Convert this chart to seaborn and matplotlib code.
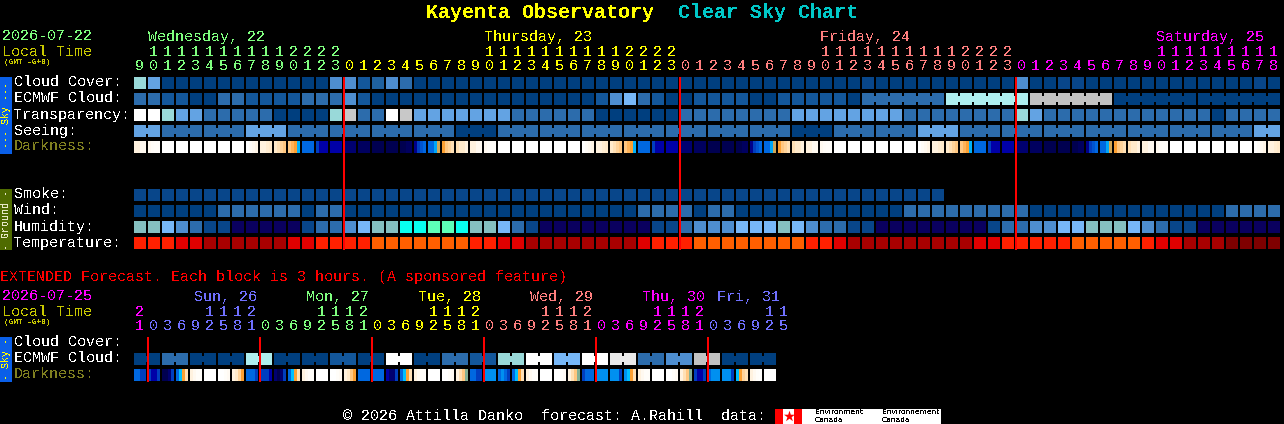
import numpy as np
import pandas as pd
import matplotlib
matplotlib.use("Agg")
import matplotlib.pyplot as plt
from matplotlib.colors import ListedColormap, LinearSegmentedColormap
from matplotlib.patches import Rectangle
import seaborn as sns

# ---------- colours of the forecast blocks (code -> colour) ----------
PALETTE = {
    "a": "#003f7f", "A": "#08468a", "b": "#13579b", "B": "#1f619f", "c": "#2c6cac",
    "d": "#4e8ed0", "e": "#63a3e3", "f": "#77b7f7", "g": "#99d9d9", "h": "#aeeeee",
    "i": "#c2c2c2", "j": "#e9e9e9", "k": "#ffffff", "s": "#c8c8c8",
    "n": "#0a005f", "m": "#85c0c0", "o": "#08fff0", "p": "#5dffb8",
    "1": "#7f0000", "2": "#a80000", "3": "#e00000", "4": "#ff2000", "5": "#ff5f00",
}
CODES = list(PALETTE)
CMAP = ListedColormap([PALETTE[c] for c in CODES])

# ---------- main forecast: one code per hour ----------
HOURS = [9, 10, 11, 12, 13, 14, 15, 16, 17, 18, 19, 20, 21, 22, 23] + list(range(24)) + list(range(24)) + list(range(19))
CLOUD = "geaaaaaaaaaaaaddbBdca" + "a" * 31 + "A" + "a" * 10 + "d" + "aa" + "AA" + "a" * 12 + "A" + "a"
ECMWF = "ccbbaaccbbbbcccdbaaaa" + "a" * 12 + "bdfcbaa" + "bbbbaabbbbba" + "c" * 6 + "h" * 6 + "i" * 6 + "a" * 12
TRANSP = "kkgeecccccaaaagscckse" + "eeeeee" + "cccccc" + "aaaaaa" + "cccccccc" + "eeeee" + "eee" + "cccccccc" + "ge" + "c" * 12 + "a" + "cccc"
SEEING = "ee" + "ccc" * 2 + "eee" + "ccc" * 4 + "aaa" + "ccc" * 7 + "aaa" + "ccc" * 2 + "eee" + "ccc" * 7 + "ee"
SMOKE = "A" * 58
WIND = "aaaaaa" + "cccccc" + "acc" + "a" * 21 + "cccc" + "acc" + "a" * 12 + "c" * 9 + "a" * 14 + "cccc"
HUMID = "mmfdcAAnnnnnAccdfmmoo" + "ppommfcA" + "n" * 8 + "AAcdddfffmfdccA" + "A" + "n" * 8 + "AccddffmmmfdcAA" + "n" * 6
TEMP = "444332222223344445555" + "555443" + "3" + "2" * 8 + "3444" + "5" * 8 + "4432" + "2" * 8 + "33" + "44444" + "55555" + "4332" + "22" + "1111"

# darkness level (0 white ... 11 near black), four readings across a block, by hour of the day
DARK_BY_HOUR = [
    [10, 10, 10, 10], [10.5, 10.5, 10.5, 10.5], [11, 11, 11, 11], [11, 11, 11, 11], [11, 11, 10.5, 10.5],
    [9.5, 8, 7.5, 7], [7, 7, 5.5, 4.2], [4, 3, 2.5, 2], [2, 1.5, 1.5, 1], [1, 1, .5, .5], [.5, .3, .2, .2],
    [0, 0, 0, 0], [0, 0, 0, 0], [0, 0, 0, 0], [0, 0, 0, 0], [0, 0, 0, 0], [0, 0, 0, 0],
    [0, .3, .5, .8], [1, 1, 1.3, 1.5], [1.5, 2, 2.5, 3], [3, 3.5, 4, 5.3], [7, 7, 7, 7], [8, 9, 9, 9], [9, 9, 9, 9],
]

SEEING_GROUPS = [2] + [3] * 26 + [2]
ECMWF_GROUPS = [1] * 52 + [6] * 5

# ---------- extended forecast: one code / reading per 3-hour block ----------
EXT_HOURS = [21] + [0, 3, 6, 9, 12, 15, 18, 21] * 5 + [0, 3, 6, 9, 12, 15]
EXT_ECMWF = "acaahaabakac" + "bgkfkjcdiaa"
EXT_GROUPS = [2] * 23
EXT_DARK = [
    [7, 7, 8, 8], [8, 9, 9, 8], [11, 11, 10, 8], [7, 5, 4, 2], [1, .5, .2, .2], [0, 0, 0, 0], [0, 0, .2, .4], [1, 1.5, 2.5, 4],
    [7, 7, 7, 8], [8, 8, 8, 9], [10, 11, 10, 8], [7, 5, 4, 2], [1, .5, .2, .2], [0, 0, 0, 0], [0, 0, .2, .4], [1, 1.5, 3, 4],
    [7, 7, 7, 7], [7, 7, 7, 7], [9, 10, 10, 8], [7, 5, 4, 2], [1, .5, .2, .2], [0, 0, 0, 0], [0, 0, .2, .4], [1, 2, 3, 4.5],
    [7, 7, 8, 8], [6, 6, 6, 6], [7, 6, 7, 8], [7, 5, 4, 2], [1, .5, .2, .2], [0, 0, 0, 0], [0, 0, .2, .4], [1, 2, 3, 4.5],
    [8, 7, 7, 7], [6, 6, 6, 6], [6, 6, 6, 8], [6, 5, 4, 2], [1, .5, .2, .2], [0, 0, 0, 0], [0, 0, .2, .4], [1, 2, 3, 4.5],
    [8, 9, 9, 8], [7, 6, 6, 6], [6, 6, 6, 8], [5, 4, 2.5, 2], [1, .5, .2, .1], [0, 0, 0, 0],
]
DARK_LEVELS = [0, 1, 2, 3, 4, 5, 6, 7, 8, 9, 10, 11]
DARK_COLOURS = ["#ffffff", "#fff2df", "#ffe0b4", "#ffc680", "#ffa030", "#00c0ff", "#0090f0", "#0068e0",
                "#0040c0", "#0000a8", "#000070", "#000050"]
DARK_CMAP = LinearSegmentedColormap.from_list("dark", [(v / 11, c) for v, c in zip(DARK_LEVELS, DARK_COLOURS)])

# ---------- texts ----------
MAIN_ROWS = [("Cloud Cover:", 77, "#ffffff"), ("ECMWF Cloud:", 93, "#ffffff"), ("Transparency:", 109, "#ffffff"),
             ("Seeing:", 125, "#ffffff"), ("Darkness:", 141, "#808020"), ("Smoke:", 189, "#ffffff"),
             ("Wind:", 205, "#ffffff"), ("Humidity:", 221, "#ffffff"), ("Temperature:", 237, "#ffffff")]
EXT_ROWS = [("Cloud Cover:", 337, "#ffffff"), ("ECMWF Cloud:", 353, "#ffffff"), ("Darkness:", 369, "#808020")]
GREEN, YELLOW, SALMON, MAGENTA, PURPLE = "#7fff7f", "#ffff00", "#ff7f7f", "#ff00ff", "#7070ff"
MAIN_DAYS = [("Wednesday, 22", 148, GREEN), ("Thursday, 23", 484, YELLOW), ("Friday, 24", 820, SALMON), ("Saturday, 25", 1156, MAGENTA)]
EXT_DAYS = [("Sun, 26", 194, PURPLE), ("Mon, 27", 306, GREEN), ("Tue, 28", 418, YELLOW), ("Wed, 29", 530, SALMON),
            ("Thu, 30", 642, MAGENTA), ("Fri, 31", 717, PURPLE)]
MAIN_DAY_SEQ = [GREEN, YELLOW, SALMON, MAGENTA]
EXT_DAY_SEQ = [MAGENTA, PURPLE, GREEN, YELLOW, SALMON, MAGENTA, PURPLE]

# ---------- layout ----------
W, H, DPI = 1284, 424, 100
X0, PITCH, CELL = 134, 14, 12
MONO = "Liberation Mono"
FS = 10.8

sns.set_theme(style="white", rc={"figure.facecolor": "black", "axes.facecolor": "black", "savefig.facecolor": "black",
                                 "text.antialiased": False})
plt.rcParams["font.family"] = [MONO, "DejaVu Sans"]

fig = plt.figure(figsize=(W / DPI, H / DPI), dpi=DPI, facecolor="black")


def px_axes(x, y, w, h):
    return fig.add_axes([x / W, 1 - (y + h) / H, w / W, h / H], facecolor="black")


def code_row(codes, top, groups=None, total=None):
    total = total or len(codes)
    vals = [CODES.index(c) for c in codes] + [np.nan] * (total - len(codes))
    frame = pd.DataFrame([vals])
    ax = px_axes(X0 - 1, top - 1, total * PITCH, CELL + 2)
    sns.heatmap(frame, ax=ax, cmap=CMAP, vmin=-0.5, vmax=len(CODES) - 0.5, cbar=False, linewidths=2 * 72 / DPI,
                linecolor="black", xticklabels=False, yticklabels=False)
    if groups:
        start = 0
        for size in groups:
            for i in range(start, start + size - 1):
                d = 1 / PITCH
                ax.add_patch(Rectangle((i + 1 - d, 4 / 14), 2 * d, 6 / 14, lw=0, color=PALETTE[codes[i]], zorder=5))
            start += size


def dark_row(samples, top):
    vals = []
    for s in samples:
        vals += list(np.repeat(s, 3)) + [np.nan, np.nan]
    ax = px_axes(X0, top, len(vals), CELL)
    sns.heatmap(pd.DataFrame([vals]), ax=ax, cmap=DARK_CMAP, vmin=0, vmax=11, cbar=False,
                xticklabels=False, yticklabels=False)


code_row(CLOUD, 77)
code_row(ECMWF, 93, ECMWF_GROUPS)
code_row(TRANSP, 109)
code_row(SEEING, 125, SEEING_GROUPS)
dark_row([DARK_BY_HOUR[h] for h in HOURS], 141)
code_row(SMOKE, 189, total=len(HOURS))
code_row(WIND, 205)
code_row(HUMID, 221)
code_row(TEMP, 237)
code_row("".join(c * 2 for c in EXT_ECMWF), 353, EXT_GROUPS)
dark_row(EXT_DARK, 369)

# overlay in pixel coordinates
ov = fig.add_axes([0, 0, 1, 1], facecolor="none", zorder=10)
ov.set_xlim(0, W)
ov.set_ylim(H, 0)
ov.axis("off")


def put(x, y, s, color, size=FS, weight="normal", ha="left", rotation=0, family=MONO, dy=1.5):
    ov.text(x, y + dy, s, color=color, fontsize=size, fontweight=weight, ha=ha, va="center", rotation=rotation,
            family=family)


# midnight markers
for k, h in enumerate(HOURS):
    if h == 0 and k > 0:
        ov.vlines(X0 + k * PITCH, 77, 250, color="#ff0000", lw=2 * 72 / DPI)
for k, h in enumerate(EXT_HOURS[:46]):
    if h == 0:
        ov.vlines(X0 + k * PITCH, 337, 382, color="#ff0000", lw=2 * 72 / DPI)

# titles
put(426, 12, "Kayenta Observatory", "#ffff00", 14.4, "bold", dy=1)
put(678, 12, "Clear Sky Chart", "#00c8c8", 14.4, "bold", dy=1)

# left column
put(2, 35, "2026-07-22", GREEN)
put(2, 50, "Local Time", "#c8c800")
put(4, 62, "(GMT -6+0)", "#c8c800", 5.6, "bold", dy=0)
put(2, 295, "2026-07-25", MAGENTA)
put(2, 310, "Local Time", "#c8c800")
put(4, 322, "(GMT -6+0)", "#c8c800", 5.6, "bold", dy=0)
for label, top, col in MAIN_ROWS + EXT_ROWS:
    put(14, top + 4, label, col)

# side bars
for top, h, col, text, tcol in [(77, 77, "#0a5fe8", "--- Sky ---", "#ffff00"),
                                (189, 61, "#4f6b00", "- Ground -", "#e8e8c8"),
                                (337, 45, "#0a5fe8", "- Sky -", "#ffff00")]:
    ov.add_patch(Rectangle((0, top), 12, h, lw=0, color=col))
    put(6, top + h / 2, text, tcol, 7.2, ha="center", rotation=90, dy=0)

# day labels
for s, x, c in MAIN_DAYS:
    put(x, 35, s, c)
for s, x, c in EXT_DAYS:
    put(x, 295, s, c)

# hour labels
day = 0
for k, h in enumerate(HOURS):
    if h == 0 and k > 0:
        day += 1
    c = MAIN_DAY_SEQ[day]
    x = X0 + k * PITCH + 5.5
    if h >= 10:
        put(x, 50, str(h // 10), c, ha="center")
    put(x, 65, str(h % 10), c, ha="center")
day = 0
for k, h in enumerate(EXT_HOURS):
    if h == 0:
        day += 1
    c = EXT_DAY_SEQ[day]
    x = X0 + k * PITCH + 5.5
    if h >= 10:
        put(x, 310, str(h // 10), c, ha="center")
    put(x, 325, str(h % 10), c, ha="center")

put(0, 276, "EXTENDED Forecast. Each block is 3 hours. (A sponsored feature)", "#ff0000")
put(343, 415, "\u00a9 2026 Attilla Danko  forecast: A.Rahill  data:", "#ffffff")

# credit logos
ov.add_patch(Rectangle((775, 409), 166, 15, lw=0, color="#ffffff"))
ov.add_patch(Rectangle((775, 409), 8, 15, lw=0, color="#ff0000"))
ov.add_patch(Rectangle((794, 409), 8, 15, lw=0, color="#ff0000"))
ov.scatter([788.5], [416], marker="*", s=70, color="#ff0000", lw=0)
for x, word in [(815, "Environment"), (882, "Environnement")]:
    put(x, 412, word, "#000000", 5.4, family="DejaVu Sans", dy=0)
    put(x, 420, "Canada", "#000000", 5.4, family="DejaVu Sans", dy=0)

fig.savefig("out.png", dpi=DPI, facecolor="black")
